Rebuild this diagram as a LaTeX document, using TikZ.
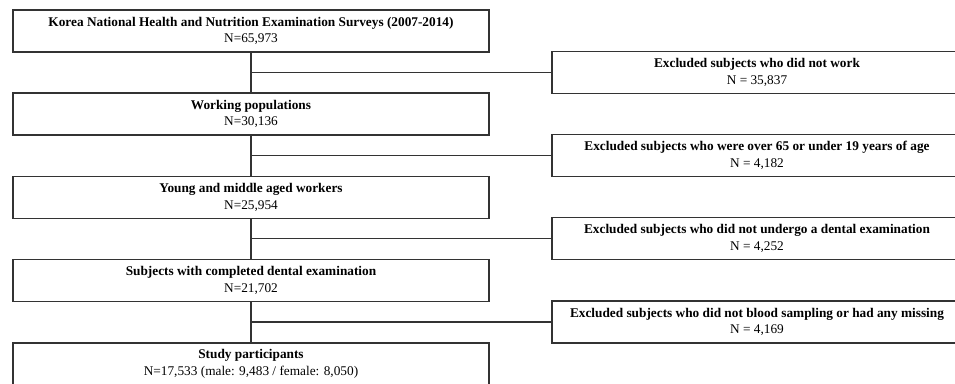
\documentclass[tikz,border=0pt]{standalone}
\usepackage{fontspec}
\setmainfont{Liberation Serif}
\tikzset{
  stage/.style={draw=black!80, line width=1.5pt, minimum width=476pt, minimum height=42pt,
    align=center, inner sep=0pt, font=\fontsize{13.3}{16.5}\selectfont},
  excl/.style={stage, minimum width=410pt},
  link/.style={draw=black!80, line width=1.5pt}
}
\begin{document}
\begin{tikzpicture}[x=1pt,y=1pt]
\useasboundingbox (0,0) rectangle (955,-383);

% main stages
\node [stage] (kn) at (251,-31) {\textbf{Korea National Health and Nutrition Examination Surveys (2007-2014)}\\N=65,973};
\node [stage] (work) at (251,-114) {\textbf{Working populations}\\N=30,136};
\node [stage] (age) at (251,-197.5) {\textbf{Young and middle aged workers}\\N=25,954};
\node [stage] (dent) at (251,-280.5) {\textbf{Subjects with completed dental examination}\\N=21,702};
\node [stage] (study) at (251,-364) {\textbf{Study participants}\\N=17,533 (male: 9,483 / female: 8,050)};

% exclusions
\node [excl] (ex1) at (757,-72.5) {\textbf{Excluded subjects who did not work}\\N = 35,837};
\node [excl] (ex2) at (757,-155.5) {\textbf{Excluded subjects who were over 65 or under 19 years of age}\\N = 4,182};
\node [excl] (ex3) at (757,-238.5) {\textbf{Excluded subjects who did not undergo a dental examination}\\N = 4,252};
\node [excl] (ex4) at (757,-322) {\textbf{Excluded subjects who did not blood sampling or had any missing}\\N = 4,169};

\draw [link] (kn) -- (work);
\draw [link] (work) -- (age);
\draw [link] (age) -- (dent);
\draw [link] (dent) -- (study);

\draw [link] (kn |- ex1.west) -- (ex1.west);
\draw [link] (work |- ex2.west) -- (ex2.west);
\draw [link] (age |- ex3.west) -- (ex3.west);
\draw [link] (dent |- ex4.west) -- (ex4.west);

\end{tikzpicture}
\end{document}
